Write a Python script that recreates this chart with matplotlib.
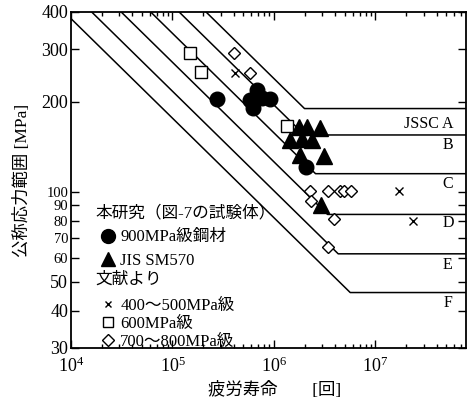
import numpy as np
import matplotlib
matplotlib.use('Agg')
import matplotlib.pyplot as plt
from matplotlib.lines import Line2D
from matplotlib.ticker import FixedLocator, FixedFormatter, LogLocator, NullFormatter

plt.rcParams['font.family'] = ['Liberation Serif', 'Noto Sans CJK JP']
plt.rcParams['mathtext.fontset'] = 'stix'

# JSSC design categories: strength at 2e6 cycles and cut-off limit [MPa]
cat_names = ['JSSC A', 'B', 'C', 'D', 'E', 'F']
cat_strength = [190, 155, 125, 100, 80, 65]
cat_cutoff = [190, 155, 115, 84, 62, 46]
label_S = [169, 143, 106.5, 78.6, 57, 42.4]

# this study
circle_N = [2.72e5, 5.8e5, 6.25e5, 6.85e5, 7.57e5, 9.14e5, 2.07e6]
circle_S = [204, 203, 191, 219, 206, 204, 121]
tri_N = [1.44e6, 1.76e6, 1.80e6, 1.89e6, 2.11e6, 2.35e6, 2.84e6, 2.90e6, 3.11e6]
tri_S = [149, 165, 133, 150, 165, 149, 163, 90, 132]

# literature
cross_N = [4.16e5, 1.7e7, 2.36e7]
cross_S = [250, 101, 80]
square_N = [1.49e5, 1.90e5, 1.33e6]
square_S = [292, 252, 166]
diam_N = [4.06e5, 5.8e5, 2.24e6, 2.30e6, 3.40e6, 3.43e6, 3.88e6, 4.52e6, 4.95e6, 5.78e6]
diam_S = [292, 250, 101, 93, 65.5, 101, 81, 101, 101, 101]

ytick_vals = [30, 40, 50, 60, 70, 80, 90, 100, 200, 300, 400]
xmin, xmax = 1e4, 7.8e7
ymin, ymax = 30, 400

fig = plt.figure(figsize=(4.77, 4.08), dpi=100)
ax = fig.add_axes([0.1488, 0.1471, 0.8281, 0.8235])
ax.set_xscale('log')
ax.set_yscale('log')
ax.set_xlim(xmin, xmax)
ax.set_ylim(ymin, ymax)

for name, sf, sc, ly in zip(cat_names, cat_strength, cat_cutoff, label_S):
    n_top = 2e6 * (sf / ymax) ** 3
    n0 = max(xmin, n_top)
    s0 = sf * (2e6 / n0) ** (1 / 3)
    n_knee = 2e6 * (sf / sc) ** 3
    ax.plot([n0, n_knee, xmax], [s0, sc, sc], color='k', lw=1.1, clip_on=True)
    if name == 'JSSC A':
        ax.text(5.9e7, ly, name, ha='right', va='center', fontsize=11.5)
    else:
        ax.text(5.17e7, ly, name, ha='center', va='center', fontsize=11.5)

ax.plot(square_N, square_S, ls='none', marker='s', ms=9, mfc='white', mec='k', mew=1.0)
ax.plot(diam_N, diam_S, ls='none', marker='D', ms=6.5, mfc='white', mec='k', mew=1.0)
ax.plot(cross_N, cross_S, ls='none', marker='x', ms=6, color='k', mew=1.0)
ax.plot(circle_N, circle_S, ls='none', marker='o', ms=10.5, color='k')
ax.plot(tri_N, tri_S, ls='none', marker='^', ms=11, color='k')

ax.yaxis.set_major_locator(FixedLocator(ytick_vals))
ax.yaxis.set_major_formatter(FixedFormatter([str(v) for v in ytick_vals]))
ax.yaxis.set_minor_locator(FixedLocator([]))
ax.yaxis.set_minor_formatter(NullFormatter())
ax.xaxis.set_major_locator(LogLocator(base=10, numticks=10))
ax.xaxis.set_minor_locator(LogLocator(base=10, subs=np.arange(2, 10), numticks=20))
ax.xaxis.set_minor_formatter(NullFormatter())

ax.tick_params(which='both', direction='in', top=True, right=True, width=1.0)
ax.tick_params(axis='y', which='major', length=6, pad=2)
ax.tick_params(axis='x', which='major', length=6, pad=6, labelsize=13)
ax.tick_params(axis='x', which='minor', length=3)
for lab, v in zip(ax.get_yticklabels(), ytick_vals):
    lab.set_fontsize(10.5 if 60 <= v <= 100 else 13)

for sp in ax.spines.values():
    sp.set_linewidth(1.3)

ax.set_xlabel('疲労寿命\u3000\u3000[回]', fontsize=12.5)
ax.set_ylabel('公称応力範囲 [MPa]', fontsize=12.5)
ax.xaxis.set_label_coords(0.516, -0.1)
ax.yaxis.set_label_coords(-0.10, 0.5)

# legend headers
ax.text(0.061, 0.402, '本研究（図-7の試験体）', transform=ax.transAxes,
        ha='left', va='center', fontsize=12)
ax.text(0.061, 0.202, '文献より', transform=ax.transAxes,
        ha='left', va='center', fontsize=12)

# legend: this study
h1 = [Line2D([], [], ls='none', marker='o', color='k', ms=10),
      Line2D([], [], ls='none', marker='^', color='k', ms=10)]
leg1 = ax.legend(h1, ['900MPa級鋼材', 'JIS SM570'],
                 loc='upper left', bbox_to_anchor=(0.072, 0.353), frameon=False,
                 borderpad=0, borderaxespad=0, handlelength=1.0, handletextpad=0.25,
                 labelspacing=0.46, fontsize=12)
ax.add_artist(leg1)

# legend: literature
h2 = [Line2D([], [], ls='none', marker='x', color='k', ms=5, mew=1.0),
      Line2D([], [], ls='none', marker='s', mfc='white', mec='k', ms=7, mew=1.0),
      Line2D([], [], ls='none', marker='D', mfc='white', mec='k', ms=6, mew=1.0)]
leg2 = ax.legend(h2, ['400～500MPa級', '600MPa級', '700～800MPa級'],
                 loc='upper left', bbox_to_anchor=(0.072, 0.150), frameon=False,
                 borderpad=0, borderaxespad=0, handlelength=1.0, handletextpad=0.25,
                 labelspacing=0.13, fontsize=12)

fig.savefig('out.png', dpi=100)
